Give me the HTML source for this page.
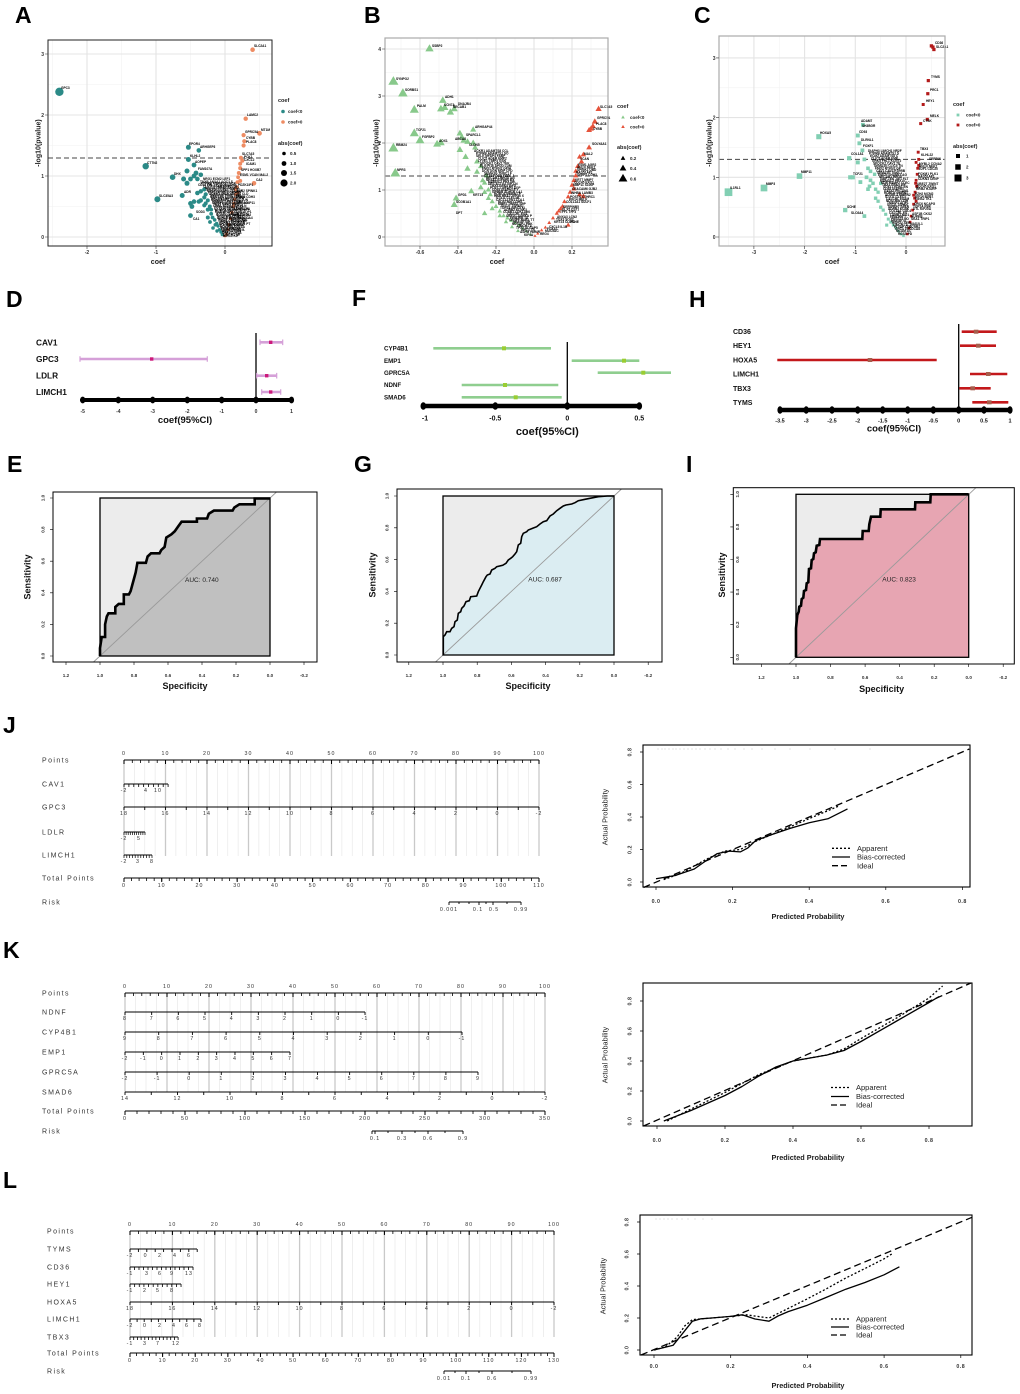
<!DOCTYPE html>
<html><head><meta charset="utf-8"><style>
html,body{margin:0;padding:0;background:#fff}
svg{display:block}
text{font-family:"Liberation Sans",Arial,sans-serif}
.b{font-weight:bold}
.pl{font-size:23px;font-weight:bold}
.tk{font-size:5px;font-weight:bold;fill:#333}
.gn{font-size:3.2px;font-weight:bold;fill:#000}
.lg{font-size:4.5px;font-weight:bold;fill:#222}
.lt{font-size:5.5px;font-weight:bold;fill:#222}
.ax{font-size:7px;font-weight:bold;fill:#222}
.nl{font-size:7px;fill:#333;letter-spacing:1.4px}
.nt{font-size:5.3px;fill:#333;letter-spacing:1px;text-anchor:middle}
.rt{font-size:4.6px;font-weight:bold;fill:#333;text-anchor:middle}
.cal{font-size:5.3px;font-weight:bold;fill:#333;text-anchor:middle;letter-spacing:0.5px}
.leg{font-size:7.5px;fill:#222}
</style></head><body>
<svg width="1020" height="1394" viewBox="0 0 1020 1394" xmlns="http://www.w3.org/2000/svg">
<defs>
<path id="tri" d="M0,-0.6 L0.52,0.3 L-0.52,0.3Z"/>
<rect id="sq" x="-0.5" y="-0.5" width="1" height="1"/>
</defs>
<rect width="1020" height="1394" fill="#fff"/>

<!-- Panel letters -->
<text class="pl" x="15" y="23">A</text>
<text class="pl" x="364" y="23">B</text>
<text class="pl" x="694" y="23">C</text>
<text class="pl" x="6" y="307">D</text>
<text class="pl" x="352" y="306">F</text>
<text class="pl" x="689" y="307">H</text>
<text class="pl" x="7" y="472">E</text>
<text class="pl" x="354" y="472">G</text>
<text class="pl" x="686" y="472">I</text>
<text class="pl" x="3" y="733">J</text>
<text class="pl" x="3" y="958">K</text>
<text class="pl" x="3" y="1188">L</text>

<!-- ================= Panel A ================= -->
<rect x="48" y="40" width="224" height="206" fill="#fff"/>
<g stroke="#f2f2f2" stroke-width="0.6">
<path d="M52.5,40V246M121.5,40V246M190.5,40V246M259.5,40V246M48,206.5H272M48,145.5H272M48,84.5H272"/>
</g>
<g stroke="#e4e4e4" stroke-width="1.1">
<path d="M87,40V246M156,40V246M225,40V246M48,237H272M48,176H272M48,115H272M48,54H272"/>
</g>
<line x1="48" y1="158" x2="272" y2="158" stroke="#444" stroke-width="1" stroke-dasharray="5,3"/>
<g fill="#2b8a87">
<circle cx="59.4" cy="91.8" r="4.2"/><circle cx="145.7" cy="166.2" r="3.2"/><circle cx="157.4" cy="199.2" r="3"/><circle cx="172.6" cy="177.2" r="2.8"/>
<circle cx="188.4" cy="147.3" r="2.5"/><circle cx="198.8" cy="150.4" r="2.3"/><circle cx="188.4" cy="159.5" r="2.5"/><circle cx="194" cy="165" r="2.4"/>
<circle cx="187" cy="171" r="2.5"/><circle cx="196" cy="173" r="2.4"/><circle cx="194" cy="176" r="2.4"/><circle cx="183.6" cy="179" r="2.5"/>
<circle cx="187" cy="183.3" r="2.5"/><circle cx="190.5" cy="179" r="2.4"/><circle cx="197.4" cy="179" r="2.3"/><circle cx="200.8" cy="174.8" r="2.3"/>
<circle cx="182.2" cy="195.5" r="2.5"/><circle cx="191.9" cy="206.5" r="2.4"/><circle cx="190.5" cy="215.6" r="2.4"/><circle cx="190.5" cy="203.4" r="2.4"/>
<circle cx="197.4" cy="193" r="2.3"/><circle cx="200.8" cy="191.3" r="2.2"/><circle cx="204.3" cy="189.4" r="2.1"/><circle cx="205.7" cy="194.3" r="2.1"/>
<circle cx="204.3" cy="197.4" r="2.1"/><circle cx="200.8" cy="200.4" r="2.2"/><circle cx="207.8" cy="200.4" r="2"/><circle cx="205.7" cy="203.4" r="2"/>
<circle cx="209.8" cy="206.5" r="2"/><circle cx="207.8" cy="209.6" r="2"/><circle cx="211.2" cy="209.6" r="1.9"/><circle cx="211.2" cy="213.8" r="1.9"/>
<circle cx="212.6" cy="217.5" r="1.9"/><circle cx="207.8" cy="217.5" r="2"/><circle cx="214.7" cy="219.9" r="1.8"/><circle cx="216.7" cy="223.6" r="1.8"/>
<circle cx="218.1" cy="226" r="1.7"/><circle cx="219.5" cy="229.7" r="1.7"/><circle cx="220.9" cy="232.1" r="1.6"/><circle cx="222.2" cy="234.6" r="1.6"/>
<circle cx="215.3" cy="224.8" r="1.8"/><circle cx="204.3" cy="205.3" r="2.1"/><circle cx="198.8" cy="201.6" r="2.2"/><circle cx="194" cy="201.6" r="2.3"/>
<circle cx="213" cy="228" r="1.8"/><circle cx="210" cy="222" r="1.9"/><circle cx="217" cy="231" r="1.7"/>
</g>
<g fill="#ee8c63">
<circle cx="252.6" cy="49.7" r="2.3"/><circle cx="245.7" cy="118.7" r="2.2"/><circle cx="259.5" cy="133.3" r="2.4"/><circle cx="243.6" cy="135.1" r="2.1"/>
<circle cx="244.3" cy="141.2" r="2.1"/><circle cx="243.6" cy="145.5" r="2.1"/><circle cx="254" cy="183.3" r="2.3"/><circle cx="240.9" cy="157.7" r="2"/>
<circle cx="242.3" cy="160.8" r="2"/><circle cx="240.2" cy="163.8" r="2"/><circle cx="240.2" cy="168.1" r="2"/><circle cx="238.8" cy="173" r="2"/>
<circle cx="238.1" cy="177.2" r="1.9"/><circle cx="237.4" cy="182.1" r="1.9"/><circle cx="236.7" cy="187" r="1.9"/><circle cx="235.4" cy="189.4" r="1.9"/>
<circle cx="236" cy="194.3" r="1.9"/><circle cx="234.7" cy="199.2" r="1.8"/><circle cx="233.3" cy="206.5" r="1.8"/><circle cx="231.9" cy="212.6" r="1.7"/>
<circle cx="230.5" cy="218.7" r="1.7"/><circle cx="229.1" cy="224.8" r="1.7"/><circle cx="227.8" cy="229.7" r="1.6"/><circle cx="226.4" cy="234" r="1.6"/>
<circle cx="225" cy="235.8" r="1.6"/><circle cx="240.2" cy="180.9" r="2"/><circle cx="234" cy="203.4" r="1.8"/><circle cx="237.4" cy="193" r="1.9"/>
</g>
<g class="gn">
<text x="61" y="89">GPC3</text><text x="254" y="47">SLC2A1</text><text x="247" y="116">LAMC2</text><text x="261" y="131">MT1M</text>
<text x="245" y="133">GPRC5A</text><text x="246" y="139">CYBB</text><text x="246" y="143">PLAC8</text><text x="189" y="145">EPOR4</text>
<text x="200" y="148">ARHGEF6</text><text x="190" y="157">KLHL2</text><text x="195" y="163">AOPEP</text><text x="147" y="164">CTTN2</text>
<text x="174" y="175">DHX</text><text x="198" y="170">FAM107A</text><text x="159" y="197">SLC35A3</text><text x="184" y="193">ADR</text>
<text x="242" y="155">SLC7A5</text><text x="244" y="158">PCK1</text><text x="244" y="161">CXCL2</text><text x="246" y="165">ICAM1</text>
<text x="256" y="181">CA2</text><text x="241" y="171">SPP1 HOXB7</text><text x="240" y="176">ESM1 VCAN MAL2</text>
<text x="203" y="180">NRG1 ECM2 LEF1</text><text x="200" y="183">TNXB ANXA1 AOC3 S</text><text x="198" y="186">CD34 FHL1 PTGDS CDH5</text>
<text x="205" y="189">KRT19 TGFB3 SPARCL</text><text x="207" y="192">MFAP4 FABP4 CCL14 K</text><text x="209" y="195">ACKR1 SELE ABCA8 CLD</text>
<text x="210" y="198">GSN CFD LYVE1 EMCN</text><text x="211" y="201">FOSB EGR1 NR4A1 JUN</text><text x="212" y="204">IGFBP6 MYH11 DES AC</text>
<text x="213" y="207">CNN1 ACTG2 VIP PLN</text><text x="214" y="210">C7 OGN DPT LUM DCN</text><text x="215" y="213">PI16 MFAP5 CD36 AQP1</text>
<text x="216" y="216">SCN7A GPM6B TCF21</text><text x="217" y="219">ADH1B HBB HBA2 CA4</text><text x="218" y="222">TIMP3 CXCL12 ZFP</text>
<text x="219" y="225">APOD MGP CST3 PT</text><text x="220" y="228">ELN FN1 COL1A</text><text x="221" y="231">MMP2 THBS1 A</text>
<text x="222" y="234">SPP1 TOP2A</text><text x="223" y="237">BIRC5 KIF</text>
<text x="201" y="184.5">PTPRB ADAMTS1 SOX</text><text x="203" y="187.5">CLIC5 AGER EMP2 CA</text><text x="206" y="190.5">SPOCK2 CAV2 TEK S</text>
<text x="208" y="193.5">FMO2 RTKN2 GPIHBP</text><text x="210" y="196.5">SEMA3G TNNC1 FHL</text><text x="211" y="199.5">NECAB1 HPGD ANKR</text>
<text x="212" y="202.5">MAMDC2 PRX NPR3</text><text x="213" y="205.5">TBX3 GRK5 WFDC1</text><text x="214" y="208.5">CD93 DIAPH3 ECM</text>
<text x="215" y="211.5">ROBO4 MMRN1 PTP</text><text x="216" y="214.5">STX11 CLEC3B FC</text><text x="217" y="217.5">NOSTRIN CDH5 T</text>
<text x="218" y="220.5">SGCG TSPAN7 ED</text><text x="219" y="223.5">ADRB2 KCNK3 E</text><text x="220" y="226.5">CALCRL ESAM</text>
<text x="221" y="229.5">FENDRR TAL1</text><text x="222" y="232.5">HBEGF VIPR</text><text x="223" y="235.5">LIMCH1 AR</text>
<text x="238" y="186">PDZK1IP1</text><text x="236" y="192">AGR2 SPINK1</text><text x="235" y="198">SFRP2 CDH3</text>
<text x="234" y="204">MMP7 MMP11</text><text x="233" y="210">S100P CEA</text><text x="232" y="216">INHBA GJB2</text><text x="231" y="222">POSTN CT</text>
<text x="229" y="219">CDC45 EXO1</text><text x="226" y="226">ANLN NEK2</text><text x="226" y="230">RAD51AP</text>
<text x="196" y="213">SOD3</text><text x="193" y="220">CA1</text>
</g>
<rect x="48" y="40" width="224" height="206" fill="none" stroke="#222" stroke-width="1"/>
<path d="M87,246v3M156,246v3M225,246v3M48,237h-3M48,176h-3M48,115h-3M48,54h-3" stroke="#333" stroke-width="0.6"/>
<g class="tk" text-anchor="end"><text x="44" y="239">0</text><text x="44" y="178">1</text><text x="44" y="117">2</text><text x="44" y="56">3</text></g>
<g class="tk" text-anchor="middle"><text x="87" y="254">-2</text><text x="156" y="254">-1</text><text x="225" y="254">0</text></g>
<text class="ax" x="158" y="264" text-anchor="middle">coef</text>
<text class="ax" transform="translate(40.5,143) rotate(-90)" text-anchor="middle">-log10(pvalue)</text>
<text class="lt" x="278" y="102">coef</text>
<circle cx="283" cy="111.5" r="1.8" fill="#2b8a87"/><text class="lg" x="288" y="113">coef&lt;0</text>
<circle cx="283" cy="122" r="1.8" fill="#ee8c63"/><text class="lg" x="288" y="123.5">coef&gt;0</text>
<text class="lt" x="278" y="145">abs(coef)</text>
<circle cx="284" cy="153.5" r="1.8"/><circle cx="284" cy="163.5" r="2.4"/><circle cx="284" cy="173" r="3"/><circle cx="284" cy="183" r="3.6"/>
<text class="lg" x="290" y="155">0.5</text><text class="lg" x="290" y="165">1.0</text><text class="lg" x="290" y="174.5">1.5</text><text class="lg" x="290" y="184.5">2.0</text>

<!-- ================= Panel B ================= -->
<rect x="385" y="38" width="223" height="208" fill="#fff"/>
<g stroke="#f2f2f2" stroke-width="0.6">
<path d="M401,38V246M439,38V246M477,38V246M515,38V246M553,38V246M591,38V246M385,213.5H608M385,166.5H608M385,119.5H608M385,72.5H608"/>
</g>
<g stroke="#e4e4e4" stroke-width="1.1">
<path d="M420,38V246M458,38V246M496,38V246M534,38V246M572,38V246M385,237H608M385,190H608M385,143H608M385,96H608M385,49H608"/>
</g>
<line x1="385" y1="176" x2="608" y2="176" stroke="#444" stroke-width="1" stroke-dasharray="5,3"/>
<g fill="#88c98b">
<use href="#tri" transform="translate(429.5,49) scale(8)"/><use href="#tri" transform="translate(393.4,81.9) scale(9.7)"/>
<use href="#tri" transform="translate(402.9,93.7) scale(9.2)"/><use href="#tri" transform="translate(414.3,110.1) scale(8.7)"/>
<use href="#tri" transform="translate(442.8,100.7) scale(7.3)"/><use href="#tri" transform="translate(440.9,109.2) scale(7.4)"/>
<use href="#tri" transform="translate(444.7,107.8) scale(7.2)"/><use href="#tri" transform="translate(450.4,112.5) scale(7)"/>
<use href="#tri" transform="translate(454.2,109.2) scale(6.8)"/><use href="#tri" transform="translate(414.3,133.6) scale(8.7)"/>
<use href="#tri" transform="translate(420,140.7) scale(8.4)"/><use href="#tri" transform="translate(437.1,144.4) scale(7.6)"/>
<use href="#tri" transform="translate(440.9,143) scale(7.4)"/><use href="#tri" transform="translate(393.4,148.6) scale(9.7)"/>
<use href="#tri" transform="translate(395.3,173.6) scale(9.6)"/><use href="#tri" transform="translate(459.9,133.6) scale(6.5)"/>
<use href="#tri" transform="translate(461.8,137.4) scale(6.4)"/><use href="#tri" transform="translate(463.7,140.7) scale(6.3)"/>
<use href="#tri" transform="translate(467.5,142) scale(6.2)"/><use href="#tri" transform="translate(473.2,129.8) scale(5.9)"/>
<use href="#tri" transform="translate(473.2,143) scale(5.9)"/><use href="#tri" transform="translate(475.1,147.7) scale(5.8)"/>
<use href="#tri" transform="translate(459.9,150) scale(6.5)"/><use href="#tri" transform="translate(465.6,157.1) scale(6.2)"/>
<use href="#tri" transform="translate(467.5,168.9) scale(6.2)"/><use href="#tri" transform="translate(477,161.8) scale(5.7)"/>
<use href="#tri" transform="translate(480.8,166.5) scale(5.5)"/><use href="#tri" transform="translate(477,172.1) scale(5.7)"/>
<use href="#tri" transform="translate(482.7,180.6) scale(5.4)"/><use href="#tri" transform="translate(484.6,183) scale(5.3)"/>
<use href="#tri" transform="translate(486.5,175.9) scale(5.3)"/><use href="#tri" transform="translate(488.4,190) scale(5.2)"/>
<use href="#tri" transform="translate(484.6,192.4) scale(5.3)"/><use href="#tri" transform="translate(471.3,191.4) scale(6)"/>
<use href="#tri" transform="translate(456.1,198.5) scale(6.7)"/><use href="#tri" transform="translate(454.2,205) scale(6.8)"/>
<use href="#tri" transform="translate(484.6,213.5) scale(5.3)"/><use href="#tri" transform="translate(488.4,198.5) scale(5.2)"/>
<use href="#tri" transform="translate(492.2,201.8) scale(5)"/><use href="#tri" transform="translate(496,206.5) scale(4.8)"/>
<use href="#tri" transform="translate(499.8,211.2) scale(4.6)"/><use href="#tri" transform="translate(503.6,215.9) scale(4.4)"/>
<use href="#tri" transform="translate(507.4,218.2) scale(4.3)"/><use href="#tri" transform="translate(511.2,220.6) scale(4.1)"/>
<use href="#tri" transform="translate(515,222.9) scale(3.9)"/><use href="#tri" transform="translate(518.8,225.3) scale(3.7)"/>
<use href="#tri" transform="translate(522.6,228.5) scale(3.5)"/><use href="#tri" transform="translate(526.4,231.4) scale(3.4)"/>
<use href="#tri" transform="translate(530.2,234.6) scale(3.2)"/><use href="#tri" transform="translate(499.8,215.9) scale(4.6)"/>
<use href="#tri" transform="translate(492.2,208.8) scale(5)"/><use href="#tri" transform="translate(490.3,194.7) scale(5.1)"/>
<use href="#tri" transform="translate(480.8,187.6) scale(5.5)"/><use href="#tri" transform="translate(506,222) scale(4.2)"/>
<use href="#tri" transform="translate(512,227) scale(4)"/><use href="#tri" transform="translate(518,231) scale(3.8)"/>
</g>
<g fill="#e5533b">
<use href="#tri" transform="translate(598.6,109.2) scale(6)"/><use href="#tri" transform="translate(594.8,121.8) scale(5.9)"/>
<use href="#tri" transform="translate(592.9,126.5) scale(5.8)"/><use href="#tri" transform="translate(591,128.9) scale(5.7)"/>
<use href="#tri" transform="translate(589.1,130.3) scale(5.6)"/><use href="#tri" transform="translate(589.1,147.7) scale(5.6)"/>
<use href="#tri" transform="translate(583.4,154.8) scale(5.3)"/><use href="#tri" transform="translate(579.6,157.1) scale(5.2)"/>
<use href="#tri" transform="translate(581.5,161.8) scale(5.2)"/><use href="#tri" transform="translate(577.7,166.5) scale(5.1)"/>
<use href="#tri" transform="translate(575.8,171.2) scale(5)"/><use href="#tri" transform="translate(575.8,175.9) scale(5)"/>
<use href="#tri" transform="translate(573.9,180.6) scale(4.9)"/><use href="#tri" transform="translate(572,185.3) scale(4.8)"/>
<use href="#tri" transform="translate(573.9,189) scale(4.9)"/><use href="#tri" transform="translate(570.1,192.4) scale(4.7)"/>
<use href="#tri" transform="translate(579.6,194.7) scale(5.2)"/><use href="#tri" transform="translate(583.4,196.6) scale(5.3)"/>
<use href="#tri" transform="translate(564.4,201.8) scale(4.4)"/><use href="#tri" transform="translate(562.5,206.5) scale(4.4)"/>
<use href="#tri" transform="translate(558.7,211.2) scale(4.2)"/><use href="#tri" transform="translate(556.8,213.5) scale(4.1)"/>
<use href="#tri" transform="translate(553,218.2) scale(3.9)"/><use href="#tri" transform="translate(549.2,222.9) scale(3.7)"/>
<use href="#tri" transform="translate(545.4,227.6) scale(3.5)"/><use href="#tri" transform="translate(541.6,230.4) scale(3.4)"/>
<use href="#tri" transform="translate(537.8,233.7) scale(3.2)"/><use href="#tri" transform="translate(535,236) scale(3)"/>
<use href="#tri" transform="translate(568.2,225.3) scale(4.6)"/><use href="#tri" transform="translate(560.6,208.8) scale(4.3)"/>
<use href="#tri" transform="translate(568.2,197) scale(4.6)"/>
</g>
<g class="gn">
<text x="432" y="47">SSBP2</text><text x="396" y="80">SYNPO2</text><text x="405" y="91">SORBS1</text><text x="417" y="107">PALM</text>
<text x="445" y="98">ADH1</text><text x="444" y="106">SCN7A</text><text x="453" y="108">NECAB1</text><text x="458" y="105">DNAJB4</text>
<text x="416" y="131">TCF21</text><text x="422" y="138">FGFBP2</text><text x="396" y="146">RBM24</text><text x="397" y="171">NPR3</text>
<text x="439" y="142">AOX1</text><text x="455" y="140">ABCA8</text><text x="475" y="128">ARHGAP44</text><text x="466" y="136">SPARCL1</text>
<text x="469" y="146">CLDN5</text><text x="473" y="196">KRT15</text><text x="458" y="196">GPD1</text><text x="456" y="203">SCGB1A1</text>
<text x="456" y="214">DPT</text>
<text x="474" y="152">ACKR1 ADAMTS8 CCL</text><text x="476" y="157">SELE MFAP4 FABP</text><text x="478" y="162">LYVE1 TIMP3 GSN</text>
<text x="480" y="167">ELN PI16 APOD LUM</text><text x="482" y="172">DCN OGN MGP CFD</text><text x="484" y="177">CST3 FOSB EGR1 J</text>
<text x="486" y="181">NR4A1 IGFBP6 MY</text><text x="488" y="185">DES ACTG2 VIP CN</text><text x="490" y="189">PLN C7 MFAP5 AQP</text>
<text x="492" y="193">GPM6B ADH1B CA1</text><text x="494" y="197">HBB HBA2 ZFP36 X</text><text x="496" y="201">CXCL12 FN1 COL1</text>
<text x="498" y="205">MMP2 THBS1 SPP</text><text x="500" y="209">TOP2A BIRC5 KI</text><text x="503" y="213">CCNB1 CDK1 MKI</text>
<text x="506" y="217">UBE2C AURKA P</text><text x="509" y="221">CENPF BUB1 TT</text><text x="512" y="225">NUSAP1 PBK</text>
<text x="516" y="229">TPX2 DLGAP5</text><text x="520" y="233">ASPM HMMR</text><text x="524" y="236">KIF4A</text>
<text x="476" y="154.5">PTPRB ADAMTS1 SO</text><text x="478" y="159.5">CLIC5 AGER EMP2</text><text x="480" y="164.5">SPOCK2 CAV2 TEK</text>
<text x="482" y="169.5">FMO2 RTKN2 GPIH</text><text x="484" y="174.5">SEMA3G TNNC1 F</text><text x="486" y="179">NECAB1 HPGD AN</text>
<text x="488" y="183">MAMDC2 PRX NP</text><text x="490" y="187">TBX3 GRK5 WFD</text><text x="492" y="191">CD93 DIAPH3 E</text>
<text x="494" y="195">ROBO4 MMRN1 P</text><text x="496" y="199">STX11 CLEC3B</text><text x="498" y="203">NOSTRIN CDH5</text>
<text x="501" y="207">SGCG TSPAN7</text><text x="504" y="211">ADRB2 KCNK3</text><text x="507" y="215">CALCRL ESA</text>
<text x="510" y="219">FENDRR TA</text><text x="513" y="223">HBEGF VIP</text><text x="517" y="227">LIMCH1 A</text><text x="521" y="231">GPC3 TN</text>
<text x="600" y="108">SLC7A5</text><text x="597" y="119">GPRC5A</text><text x="596" y="125">PLAC8</text><text x="593" y="130">CYBB</text>
<text x="592" y="145">SOLYAA1</text><text x="584" y="155">MAL2</text><text x="580" y="160">VCAN</text><text x="578" y="166">ESM1 AGR2</text>
<text x="577" y="171">SPINK1 UBD</text><text x="577" y="176">SFRP2 CDH3</text><text x="575" y="181">KRT7 MMP7</text><text x="573" y="186">MMP11 S100P</text>
<text x="572" y="190">CEACAM6 GJB2</text><text x="571" y="194">INHBA LAMB3</text><text x="570" y="198">POSTN CTHRC1</text><text x="566" y="203">COL11A1 SULF1</text>
<text x="563" y="208">SERPINB5</text><text x="560" y="213">TFF1 TFF3</text><text x="557" y="218">ANXA3 LCN2</text><text x="554" y="223">KRT23 CLDN1</text>
<text x="549" y="228">CXCL5 IL1B</text><text x="545" y="232">MUC5AC</text><text x="540" y="235">REG4</text><text x="570" y="223">PCHE</text>
<text x="577" y="168.5">ANLN NEK2</text><text x="576" y="173.5">RAD51AP1</text><text x="574" y="183.5">CDC45 EXO1</text><text x="569" y="200.5">KIF14 MELK</text>
<text x="562" y="210.5">DLX5 CST1</text><text x="556" y="220.5">TOX3 SOX2</text><text x="547" y="230">FOXA1</text>
</g>
<rect x="385" y="38" width="223" height="208" fill="none" stroke="#aaa" stroke-width="1.2"/>
<path d="M420,246v3M458,246v3M496,246v3M534,246v3M572,246v3M385,237h-3M385,190h-3M385,143h-3M385,96h-3M385,49h-3" stroke="#333" stroke-width="0.6"/>
<g class="tk" text-anchor="end"><text x="381" y="239">0</text><text x="381" y="192">1</text><text x="381" y="145">2</text><text x="381" y="98">3</text><text x="381" y="51">4</text></g>
<g class="tk" text-anchor="middle"><text x="420" y="254">-0.6</text><text x="458" y="254">-0.4</text><text x="496" y="254">-0.2</text><text x="534" y="254">0.0</text><text x="572" y="254">0.2</text></g>
<text class="ax" x="497" y="264" text-anchor="middle">coef</text>
<text class="ax" transform="translate(378.5,143) rotate(-90)" text-anchor="middle">-log10(pvalue)</text>
<text class="lt" x="617" y="108">coef</text>
<use href="#tri" transform="translate(623,117.5) scale(3.5)" fill="#88c98b"/><text class="lg" x="630" y="119">coef&lt;0</text>
<use href="#tri" transform="translate(623,127) scale(3.5)" fill="#e5533b"/><text class="lg" x="630" y="128.5">coef&gt;0</text>
<text class="lt" x="617" y="149">abs(coef)</text>
<use href="#tri" transform="translate(623,158.5) scale(4.5)"/><use href="#tri" transform="translate(623,168.5) scale(6.5)"/><use href="#tri" transform="translate(623,179) scale(8.5)"/>
<text class="lg" x="630" y="160">0.2</text><text class="lg" x="630" y="170">0.4</text><text class="lg" x="630" y="180.5">0.6</text>

<!-- ================= Panel C ================= -->
<rect x="719" y="36" width="226" height="210" fill="#fff"/>
<g stroke="#f2f2f2" stroke-width="0.6">
<path d="M728.6,36V246M779.3,36V246M830,36V246M880.7,36V246M931.4,36V246M719,207.2H945M719,147.5H945M719,87.8H945"/>
</g>
<g stroke="#e4e4e4" stroke-width="1.1">
<path d="M753.9,36V246M804.6,36V246M855.3,36V246M906,36V246M719,237H945M719,177.3H945M719,117.6H945M719,57.9H945"/>
</g>
<line x1="719" y1="159.4" x2="945" y2="159.4" stroke="#444" stroke-width="1" stroke-dasharray="5,3"/>
<g fill="#82cfb3">
<use href="#sq" transform="translate(728.5,192.2) scale(7.7)"/><use href="#sq" transform="translate(764,188) scale(6.7)"/>
<use href="#sq" transform="translate(799.5,176.1) scale(5.6)"/><use href="#sq" transform="translate(818.8,136.7) scale(5.1)"/>
<use href="#sq" transform="translate(845.2,210.1) scale(4.3)"/><use href="#sq" transform="translate(850.2,177.3) scale(4.1)"/>
<use href="#sq" transform="translate(852.8,177.3) scale(4.1)"/><use href="#sq" transform="translate(849.2,158.2) scale(4.2)"/>
<use href="#sq" transform="translate(857.8,162.4) scale(3.9)"/><use href="#sq" transform="translate(857.8,135.5) scale(3.9)"/>
<use href="#sq" transform="translate(859.4,143.3) scale(3.9)"/><use href="#sq" transform="translate(862.9,124.8) scale(3.8)"/>
<use href="#sq" transform="translate(862.4,150.4) scale(3.8)"/><use href="#sq" transform="translate(864.4,159.4) scale(3.7)"/>
<use href="#sq" transform="translate(868,168.3) scale(3.6)"/><use href="#sq" transform="translate(870.5,171.3) scale(3.6)"/>
<use href="#sq" transform="translate(870.5,180.3) scale(3.6)"/><use href="#sq" transform="translate(873,183.3) scale(3.5)"/>
<use href="#sq" transform="translate(875.6,189.2) scale(3.4)"/><use href="#sq" transform="translate(878.1,192.2) scale(3.3)"/>
<use href="#sq" transform="translate(878.1,201.2) scale(3.3)"/><use href="#sq" transform="translate(880.7,207.2) scale(3.3)"/>
<use href="#sq" transform="translate(883.2,210.1) scale(3.2)"/><use href="#sq" transform="translate(885.7,214.3) scale(3.1)"/>
<use href="#sq" transform="translate(888.3,219.1) scale(3)"/><use href="#sq" transform="translate(890.8,222.1) scale(3)"/>
<use href="#sq" transform="translate(893.3,225.1) scale(2.9)"/><use href="#sq" transform="translate(895.9,228) scale(2.8)"/>
<use href="#sq" transform="translate(898.4,231) scale(2.7)"/><use href="#sq" transform="translate(900.9,234) scale(2.7)"/>
<use href="#sq" transform="translate(903.5,235.8) scale(2.6)"/><use href="#sq" transform="translate(864.4,216.1) scale(3.7)"/>
<use href="#sq" transform="translate(886.7,225.1) scale(3.1)"/><use href="#sq" transform="translate(875.6,198.2) scale(3.4)"/>
<use href="#sq" transform="translate(869.5,186.3) scale(3.6)"/><use href="#sq" transform="translate(866.5,177.3) scale(3.7)"/>
<use href="#sq" transform="translate(860.4,182.1) scale(3.8)"/><use href="#sq" transform="translate(874.6,174.3) scale(3.4)"/>
<use href="#sq" transform="translate(880.7,183.3) scale(3.3)"/><use href="#sq" transform="translate(868,189.2) scale(3.6)"/>
</g>
<g fill="#b31a1a">
<use href="#sq" transform="translate(931.4,45.9) scale(3.3)"/><use href="#sq" transform="translate(932.9,47.1) scale(3.3)"/>
<use href="#sq" transform="translate(933.9,49.5) scale(3.3)"/><use href="#sq" transform="translate(928.3,80.6) scale(3.2)"/>
<use href="#sq" transform="translate(927.8,93.7) scale(3.2)"/><use href="#sq" transform="translate(923.2,104.5) scale(3)"/>
<use href="#sq" transform="translate(927.3,119.4) scale(3.1)"/><use href="#sq" transform="translate(920.7,123.6) scale(3)"/>
<use href="#sq" transform="translate(918.2,152.2) scale(2.9)"/><use href="#sq" transform="translate(918.7,159.4) scale(2.9)"/>
<use href="#sq" transform="translate(916.1,162.4) scale(2.8)"/><use href="#sq" transform="translate(917.7,168.3) scale(2.8)"/>
<use href="#sq" transform="translate(917.2,174.3) scale(2.8)"/><use href="#sq" transform="translate(916.1,180.3) scale(2.8)"/>
<use href="#sq" transform="translate(916.6,186.3) scale(2.8)"/><use href="#sq" transform="translate(915.1,192.2) scale(2.8)"/>
<use href="#sq" transform="translate(914.6,198.2) scale(2.7)"/><use href="#sq" transform="translate(913.6,204.2) scale(2.7)"/>
<use href="#sq" transform="translate(912.6,210.1) scale(2.7)"/><use href="#sq" transform="translate(911.1,216.1) scale(2.6)"/>
<use href="#sq" transform="translate(910.1,222.1) scale(2.6)"/><use href="#sq" transform="translate(909,228) scale(2.6)"/>
<use href="#sq" transform="translate(907.5,234) scale(2.5)"/><use href="#sq" transform="translate(916.1,201.2) scale(2.8)"/>
<use href="#sq" transform="translate(913.6,195.2) scale(2.7)"/><use href="#sq" transform="translate(918.7,165.4) scale(2.9)"/>
<use href="#sq" transform="translate(915.6,183.3) scale(2.8)"/>
</g>
<g class="gn">
<text x="730" y="189">IL1RL1</text><text x="766" y="185">MMP3</text><text x="801" y="173">MMP11</text><text x="820" y="134">HOXA5</text>
<text x="847" y="208">SCHE</text><text x="853" y="175">TCF21</text><text x="861" y="122">ADAM7</text><text x="862" y="127">SH3BGR</text>
<text x="859" y="133">CD93</text><text x="861" y="141">DLRNL1</text><text x="863" y="147">FOXF1</text><text x="851" y="155">COL1A1</text>
<text x="851" y="214">SLC6A4</text>
<text x="935" y="44">CD36</text><text x="936" y="48">SLC2A1</text><text x="931" y="78">TYMS</text><text x="930" y="91">PRC1</text>
<text x="926" y="102">HEY1</text><text x="930" y="117">MELK</text><text x="923" y="122">CTSK</text><text x="920" y="150">TBX3</text>
<text x="921" y="156">KLHL22</text><text x="929" y="160">SERPIN</text>
<text x="868" y="152">DIAPH3 LIMCH1 NR2F</text><text x="870" y="157">ECM2 ADAMTS8 C</text><text x="872" y="162">GRK5 FHL1 KCNT2</text>
<text x="874" y="167">SEMA3G CLIC5 TN</text><text x="876" y="172">CAV1 CAV2 PTPRB</text><text x="878" y="176">EMCN SHANK3 AG</text>
<text x="880" y="180">VWF TEK TIE1 FLT</text><text x="881" y="184">KDR RAMP2 CLEC</text><text x="883" y="188">SOX17 EDN1 EN</text>
<text x="884" y="192">GATA2 PECAM1</text><text x="885" y="196">ADGRL4 MMRN2</text><text x="886" y="200">CALCRL ESAM</text>
<text x="887" y="204">TM4SF1 AQP1</text><text x="888" y="208">IGFBP7 SPAR</text><text x="889" y="212">COL4A1 COL4</text>
<text x="890" y="216">LAMB1 NID1</text><text x="891" y="220">PRSS23 NO</text><text x="892" y="224">HSPG2 SER</text>
<text x="894" y="228">PLVAP CD3</text><text x="896" y="232">MCAM AC</text><text x="898" y="235">RGS5 PD</text>
<text x="869" y="154.5">PTPRB ADAMTS1 S</text><text x="871" y="159.5">CLIC5 AGER EMP</text><text x="873" y="164.5">SPOCK2 CAV2 TE</text>
<text x="875" y="169.5">FMO2 RTKN2 GP</text><text x="877" y="174">SEMA3G TNNC1</text><text x="879" y="178">NECAB1 HPGD</text>
<text x="880" y="182">MAMDC2 PRX N</text><text x="882" y="186">TBX3 GRK5 WF</text><text x="883" y="190">CD93 DIAPH3</text>
<text x="884" y="194">ROBO4 MMRN1</text><text x="885" y="198">STX11 CLEC3</text><text x="886" y="202">NOSTRIN CDH</text>
<text x="887" y="206">SGCG TSPAN</text><text x="888" y="210">ADRB2 KCNK</text><text x="889" y="214">CALCRL ES</text>
<text x="890" y="218">FENDRR T</text><text x="891" y="222">HBEGF VI</text><text x="893" y="226">LIMCH1 A</text><text x="895" y="230">GPC3 TN</text>
<text x="919" y="165">MYBL2 CCNA2</text><text x="919" y="170">E2F1 CDC20</text><text x="918" y="175">FOXM1 PLK1</text>
<text x="918" y="180">CDKN3 CENP</text><text x="917" y="185">UBE2T ZWINT</text><text x="916" y="190">RRM2 HJURP</text>
<text x="915" y="195">EZH2 MCM2</text><text x="915" y="200">GINS2 TK1</text><text x="914" y="205">ORC6 NCAPG</text>
<text x="913" y="210">DTL KIF20A</text><text x="912" y="215">ASF1B CKS2</text><text x="911" y="220">SKA1 TRIP1</text>
<text x="910" y="225">MAD2L1</text><text x="909" y="230">CDCA8</text>
<text x="919" y="167.5">ANLN NEK2</text><text x="918" y="177.5">RAD51AP1</text><text x="916" y="187.5">CDC45 EXO1</text>
<text x="915" y="197.5">KIF14 BUB1</text><text x="913" y="207.5">TOP2A PBK</text><text x="911" y="217.5">AURKB</text><text x="909" y="227.5">CCNB2</text>
</g>
<rect x="719" y="36" width="226" height="210" fill="none" stroke="#aaa" stroke-width="1.2"/>
<path d="M753.9,246v3M804.6,246v3M855.3,246v3M906,246v3M719,237h-3M719,177.3h-3M719,117.6h-3M719,57.9h-3" stroke="#333" stroke-width="0.6"/>
<g class="tk" text-anchor="end"><text x="715.5" y="239">0</text><text x="715.5" y="179.3">1</text><text x="715.5" y="119.6">2</text><text x="715.5" y="59.9">3</text></g>
<g class="tk" text-anchor="middle"><text x="754" y="254">-3</text><text x="805" y="254">-2</text><text x="855" y="254">-1</text><text x="906" y="254">0</text></g>
<text class="ax" x="832" y="264" text-anchor="middle">coef</text>
<text class="ax" transform="translate(711.5,143) rotate(-90)" text-anchor="middle">-log10(pvalue)</text>
<text class="lt" x="953" y="106">coef</text>
<use href="#sq" transform="translate(958,115) scale(2.8)" fill="#82cfb3"/><text class="lg" x="966" y="116.5">coef&lt;0</text>
<use href="#sq" transform="translate(958,125) scale(2.8)" fill="#b31a1a"/><text class="lg" x="966" y="126.5">coef&gt;0</text>
<text class="lt" x="953" y="148">abs(coef)</text>
<use href="#sq" transform="translate(958,156) scale(4)"/><use href="#sq" transform="translate(958,167) scale(5.5)"/><use href="#sq" transform="translate(958,178) scale(7)"/>
<text class="lg" x="966" y="157.5">1</text><text class="lg" x="966" y="168.5">2</text><text class="lg" x="966" y="179.5">3</text>

<!-- ================= Panel D ================= -->
<line x1="256" y1="333" x2="256" y2="400" stroke="#000" stroke-width="1.3"/>
<g stroke="#d5a0d8" stroke-width="2.6">
<path d="M260,342.3H282.7M80,359H207.3M256.7,375.7H276.7M261.7,392H280.7"/>
</g>
<g stroke="#d5a0d8" stroke-width="1.2">
<path d="M260,339.5v5.6M282.7,339.5v5.6M80,356.2v5.6M207.3,356.2v5.6M256.7,372.9v5.6M276.7,372.9v5.6M261.7,389.2v5.6M280.7,389.2v5.6"/>
</g>
<g fill="#cc1a7a">
<rect x="269" y="340.6" width="3.4" height="3.4"/><rect x="150" y="357.3" width="3.4" height="3.4"/><rect x="265" y="374" width="3.4" height="3.4"/><rect x="269" y="390.3" width="3.4" height="3.4"/>
</g>
<line x1="82" y1="400" x2="291.5" y2="400" stroke="#000" stroke-width="4" stroke-linecap="round"/>
<g fill="#000"><ellipse cx="82.7" cy="400" rx="2.6" ry="3.4"/><ellipse cx="118.3" cy="400" rx="2.6" ry="3.4"/><ellipse cx="152.7" cy="400" rx="2.6" ry="3.4"/><ellipse cx="187.3" cy="400" rx="2.6" ry="3.4"/><ellipse cx="221.7" cy="400" rx="2.6" ry="3.4"/><ellipse cx="256" cy="400" rx="2.6" ry="3.4"/><ellipse cx="291.5" cy="400" rx="2.6" ry="3.4"/></g>
<g class="tk" text-anchor="middle" font-size="5.3"><text x="82.7" y="413">-5</text><text x="118.3" y="413">-4</text><text x="152.7" y="413">-3</text><text x="187.3" y="413">-2</text><text x="221.7" y="413">-1</text><text x="256" y="413">0</text><text x="291.5" y="413">1</text></g>
<g font-weight="bold" font-size="8.3" fill="#111"><text x="36" y="345.3">CAV1</text><text x="36" y="362">GPC3</text><text x="36" y="378.7">LDLR</text><text x="36" y="395">LIMCH1</text></g>
<text x="185" y="423" font-size="9.5" font-weight="bold" text-anchor="middle" fill="#111">coef(95%CI)</text>

<!-- ================= Panel F ================= -->
<line x1="567.3" y1="342" x2="567.3" y2="406" stroke="#000" stroke-width="1.3"/>
<g stroke="#8fce8f" stroke-width="2.6">
<path d="M433.3,348.3H551M571.7,360.7H639.3M597.7,372.7H671M461.7,385H558.3M461.7,397.3H561.7"/>
</g>
<g fill="#9acd32">
<rect x="502" y="346.3" width="4" height="4"/><rect x="622" y="358.7" width="4" height="4"/><rect x="641.3" y="370.7" width="4" height="4"/><rect x="503" y="383" width="4" height="4"/><rect x="513.7" y="395.3" width="4" height="4"/>
</g>
<line x1="423.3" y1="406" x2="639.3" y2="406" stroke="#000" stroke-width="4.5" stroke-linecap="round"/>
<g fill="#000"><ellipse cx="423.3" cy="406" rx="2.8" ry="3.8"/><ellipse cx="495.3" cy="406" rx="2.8" ry="3.8"/><ellipse cx="567.3" cy="406" rx="2.8" ry="3.8"/><ellipse cx="639.3" cy="406" rx="2.8" ry="3.8"/></g>
<g font-weight="bold" font-size="7" fill="#111" text-anchor="middle"><text x="425" y="420.5">-1</text><text x="495.3" y="420.5">-0.5</text><text x="567.3" y="420.5">0</text><text x="639.3" y="420.5">0.5</text></g>
<g font-weight="bold" font-size="6.2" fill="#111"><text x="384" y="350.5">CYP4B1</text><text x="384" y="362.9">EMP1</text><text x="384" y="374.9">GPRC5A</text><text x="384" y="387.2">NDNF</text><text x="384" y="399.5">SMAD6</text></g>
<text x="547.3" y="435" font-size="11" font-weight="bold" text-anchor="middle" fill="#111">coef(95%CI)</text>

<!-- ================= Panel H ================= -->
<line x1="958.7" y1="324" x2="958.7" y2="410" stroke="#000" stroke-width="1.3"/>
<g stroke="#c3181b" stroke-width="2.6">
<path d="M961.7,331.7H996.7M960,345.7H996M777.3,360H936.7M970,374H1007.3M959.3,388.3H990.7M972.3,402.3H1008.3"/>
</g>
<g fill="#a65e4c">
<rect x="973.8" y="329.7" width="4.6" height="4"/><rect x="976" y="343.7" width="4.6" height="4"/><rect x="867.7" y="358" width="4.6" height="4"/><rect x="986" y="372" width="4.6" height="4"/><rect x="970.4" y="386.3" width="4.6" height="4"/><rect x="987" y="400.3" width="4.6" height="4"/>
</g>
<line x1="780" y1="410" x2="1010" y2="410" stroke="#000" stroke-width="4.5" stroke-linecap="round"/>
<g fill="#000"><ellipse cx="780" cy="410" rx="2.6" ry="3.8"/><ellipse cx="806.2" cy="410" rx="2.6" ry="3.8"/><ellipse cx="832" cy="410" rx="2.6" ry="3.8"/><ellipse cx="857.7" cy="410" rx="2.6" ry="3.8"/><ellipse cx="882.7" cy="410" rx="2.6" ry="3.8"/><ellipse cx="907.7" cy="410" rx="2.6" ry="3.8"/><ellipse cx="933.3" cy="410" rx="2.6" ry="3.8"/><ellipse cx="958.7" cy="410" rx="2.6" ry="3.8"/><ellipse cx="984" cy="410" rx="2.6" ry="3.8"/><ellipse cx="1010" cy="410" rx="2.6" ry="3.8"/></g>
<g font-weight="bold" font-size="5.5" fill="#111" text-anchor="middle"><text x="780" y="422.5">-3.5</text><text x="806.2" y="422.5">-3</text><text x="832" y="422.5">-2.5</text><text x="857.7" y="422.5">-2</text><text x="882.7" y="422.5">-1.5</text><text x="907.7" y="422.5">-1</text><text x="933.3" y="422.5">-0.5</text><text x="958.7" y="422.5">0</text><text x="984" y="422.5">0.5</text><text x="1010" y="422.5">1</text></g>
<g font-weight="bold" font-size="7" fill="#111"><text x="733" y="334.2">CD36</text><text x="733" y="348.2">HEY1</text><text x="733" y="362.5">HOXA5</text><text x="733" y="376.5">LIMCH1</text><text x="733" y="390.8">TBX3</text><text x="733" y="404.8">TYMS</text></g>
<text x="894" y="431.5" font-size="9.5" font-weight="bold" text-anchor="middle" fill="#111">coef(95%CI)</text>

<!-- ================= ROC E ================= -->
<rect x="100" y="498" width="170" height="158" fill="#ececec"/>
<polygon fill="#c0c0c0" points="100,656 100,648.1 101.7,637 105.1,637 105.1,624.4 106.8,616.5 108.5,613.3 115.3,613.3 115.3,607 118.7,603.9 123.8,603.9 123.8,594.4 128.9,594.4 130.6,591.2 132.3,584.9 134,578.6 135.7,572.3 137.4,562.8 145.9,562.8 147.6,556.5 151,553.3 159.5,553.3 161.2,550.1 164.6,547 166.3,537.5 171.4,534.3 174.8,531.2 178.2,526.4 181.6,521.7 196.9,521.7 196.9,518.5 207.1,518.5 208.8,513.8 213.9,510.6 232.6,510.6 234.3,507.5 239.4,504.3 254.7,504.3 254.7,498.5 270,498.5 270,656"/>
<line x1="93.5" y1="662" x2="276.5" y2="492" stroke="#9a9a9a" stroke-width="0.9"/>
<rect x="100" y="498" width="170" height="158" fill="none" stroke="#000" stroke-width="1.3"/>
<polyline fill="none" stroke="#000" stroke-width="2.6" points="100,656 100,648.1 101.7,637 105.1,637 105.1,624.4 106.8,616.5 108.5,613.3 115.3,613.3 115.3,607 118.7,603.9 123.8,603.9 123.8,594.4 128.9,594.4 130.6,591.2 132.3,584.9 134,578.6 135.7,572.3 137.4,562.8 145.9,562.8 147.6,556.5 151,553.3 159.5,553.3 161.2,550.1 164.6,547 166.3,537.5 171.4,534.3 174.8,531.2 178.2,526.4 181.6,521.7 196.9,521.7 196.9,518.5 207.1,518.5 208.8,513.8 213.9,510.6 232.6,510.6 234.3,507.5 239.4,504.3 254.7,504.3 254.7,498.5 270,498.5"/>
<rect x="53" y="492" width="264" height="170" fill="none" stroke="#000" stroke-width="1"/>
<path d="M66,662v3M100,662v3M134,662v3M168,662v3M202,662v3M236,662v3M270,662v3M304,662v3M53,656h-3M53,624.4h-3M53,592.8h-3M53,561.2h-3M53,529.6h-3M53,498h-3" stroke="#000" stroke-width="0.6"/>
<g class="rt"><text x="66" y="677">1.2</text><text x="100" y="677">1.0</text><text x="134" y="677">0.8</text><text x="168" y="677">0.6</text><text x="202" y="677">0.4</text><text x="236" y="677">0.2</text><text x="270" y="677">0.0</text><text x="304" y="677">-0.2</text></g>
<g class="rt"><text transform="translate(44.5,656) rotate(-90)">0.0</text><text transform="translate(44.5,624.4) rotate(-90)">0.2</text><text transform="translate(44.5,592.8) rotate(-90)">0.4</text><text transform="translate(44.5,561.2) rotate(-90)">0.6</text><text transform="translate(44.5,529.6) rotate(-90)">0.8</text><text transform="translate(44.5,498) rotate(-90)">1.0</text></g>
<text font-size="9" font-weight="bold" fill="#111" text-anchor="middle" transform="translate(30.5,577) rotate(-90)">Sensitivity</text>
<text x="185" y="689" font-size="9" font-weight="bold" fill="#111" text-anchor="middle">Specificity</text>
<text x="185" y="582" font-size="6.5" fill="#222">AUC: 0.740</text>

<!-- ================= ROC G ================= -->
<rect x="443" y="496" width="171" height="159" fill="#ececec"/>
<polygon fill="#dbedf2" points="443.3,655 443.3,636.7 445,635 446.7,631.7 450,631.7 451.7,628.3 454,626.7 455,621.7 457.3,620 458.3,613.3 460.7,611.7 461.7,608.3 464,606 466,601.7 469.3,600.7 470.7,596.7 476.7,596 478.3,591.7 480,588.3 481.7,585 483.3,581.7 486,576.7 487.3,575 490,574 491.7,570 495,568.3 496.7,566.7 502.7,565.3 506,563.3 508.3,560 510.7,558.3 512.7,556.7 515,554 516.7,551.7 518.3,545 520.7,543.3 521.7,536.7 523.3,533.3 526.7,531.7 528.3,530 532.7,528.3 536.7,526.7 540,524 543.3,521.7 546.7,520.7 550,516 553.3,514 556.7,510.7 560,508.3 563.3,506 566,505 571.7,504 575,502.7 578.3,500.7 585,499.3 595,497.3 598.3,496.7 607.3,496 614,496 614,655"/>
<line x1="435.5" y1="662" x2="621.5" y2="489" stroke="#9a9a9a" stroke-width="0.9"/>
<rect x="443" y="496" width="171" height="159" fill="none" stroke="#000" stroke-width="1.3"/>
<polyline fill="none" stroke="#000" stroke-width="1.6" points="443.3,655 443.3,636.7 445,635 446.7,631.7 450,631.7 451.7,628.3 454,626.7 455,621.7 457.3,620 458.3,613.3 460.7,611.7 461.7,608.3 464,606 466,601.7 469.3,600.7 470.7,596.7 476.7,596 478.3,591.7 480,588.3 481.7,585 483.3,581.7 486,576.7 487.3,575 490,574 491.7,570 495,568.3 496.7,566.7 502.7,565.3 506,563.3 508.3,560 510.7,558.3 512.7,556.7 515,554 516.7,551.7 518.3,545 520.7,543.3 521.7,536.7 523.3,533.3 526.7,531.7 528.3,530 532.7,528.3 536.7,526.7 540,524 543.3,521.7 546.7,520.7 550,516 553.3,514 556.7,510.7 560,508.3 563.3,506 566,505 571.7,504 575,502.7 578.3,500.7 585,499.3 595,497.3 598.3,496.7 607.3,496 614,496"/>
<rect x="397" y="489" width="265" height="173" fill="none" stroke="#000" stroke-width="1"/>
<path d="M408.8,662v3M443,662v3M477.2,662v3M511.4,662v3M545.6,662v3M579.8,662v3M614,662v3M648.2,662v3M397,655h-3M397,623.2h-3M397,591.4h-3M397,559.6h-3M397,527.8h-3M397,496h-3" stroke="#000" stroke-width="0.6"/>
<g class="rt"><text x="408.8" y="677">1.2</text><text x="443" y="677">1.0</text><text x="477.2" y="677">0.8</text><text x="511.4" y="677">0.6</text><text x="545.6" y="677">0.4</text><text x="579.8" y="677">0.2</text><text x="614" y="677">0.0</text><text x="648.2" y="677">-0.2</text></g>
<g class="rt"><text transform="translate(388.5,655) rotate(-90)">0.0</text><text transform="translate(388.5,623.2) rotate(-90)">0.2</text><text transform="translate(388.5,591.4) rotate(-90)">0.4</text><text transform="translate(388.5,559.6) rotate(-90)">0.6</text><text transform="translate(388.5,527.8) rotate(-90)">0.8</text><text transform="translate(388.5,496) rotate(-90)">1.0</text></g>
<text font-size="9" font-weight="bold" fill="#111" text-anchor="middle" transform="translate(375.5,575) rotate(-90)">Sensitivity</text>
<text x="528" y="689" font-size="9" font-weight="bold" fill="#111" text-anchor="middle">Specificity</text>
<text x="528.3" y="581.5" font-size="6.5" fill="#222">AUC: 0.687</text>

<!-- ================= ROC I ================= -->
<rect x="796" y="494.3" width="172.7" height="163" fill="#ececec"/>
<polygon fill="#e7a5b2" points="796,657.3 796,628.3 797.3,615 798.7,611.7 799.3,606.7 801,605.7 801.7,599 803.3,597.7 804,591 806,590 806.7,583.3 808.3,582.3 809,569 811,568.3 811.7,560 813.3,559 814,553.3 815.7,552.3 816.7,545.7 819.3,545 820,539 862.3,539 862.7,531 868.7,531 869.3,524.3 871,516.7 880.3,516.7 880.7,509.3 915,509.3 915.3,502.3 930.3,502.3 930.7,494.3 968.7,494.3 968.7,657.3"/>
<line x1="788.9" y1="664" x2="975.9" y2="487.7" stroke="#9a9a9a" stroke-width="0.9"/>
<rect x="796" y="494.3" width="172.7" height="163" fill="none" stroke="#000" stroke-width="1.3"/>
<polyline fill="none" stroke="#000" stroke-width="2.6" points="796,657.3 796,628.3 797.3,615 798.7,611.7 799.3,606.7 801,605.7 801.7,599 803.3,597.7 804,591 806,590 806.7,583.3 808.3,582.3 809,569 811,568.3 811.7,560 813.3,559 814,553.3 815.7,552.3 816.7,545.7 819.3,545 820,539 862.3,539 862.7,531 868.7,531 869.3,524.3 871,516.7 880.3,516.7 880.7,509.3 915,509.3 915.3,502.3 930.3,502.3 930.7,494.3 968.7,494.3"/>
<rect x="733.3" y="487.7" width="281" height="176.3" fill="none" stroke="#000" stroke-width="1"/>
<path d="M761.5,664v3M796,664v3M830.5,664v3M865.1,664v3M899.6,664v3M934.2,664v3M968.7,664v3M1003.2,664v3M733.3,657.3h-3M733.3,624.7h-3M733.3,592.1h-3M733.3,559.5h-3M733.3,526.9h-3M733.3,494.3h-3" stroke="#000" stroke-width="0.6"/>
<g class="rt"><text x="761.5" y="679">1.2</text><text x="796" y="679">1.0</text><text x="830.5" y="679">0.8</text><text x="865.1" y="679">0.6</text><text x="899.6" y="679">0.4</text><text x="934.2" y="679">0.2</text><text x="968.7" y="679">0.0</text><text x="1003.2" y="679">-0.2</text></g>
<g class="rt"><text transform="translate(739,657.3) rotate(-90)">0.0</text><text transform="translate(739,624.7) rotate(-90)">0.2</text><text transform="translate(739,592.1) rotate(-90)">0.4</text><text transform="translate(739,559.5) rotate(-90)">0.6</text><text transform="translate(739,526.9) rotate(-90)">0.8</text><text transform="translate(739,494.3) rotate(-90)">1.0</text></g>
<text font-size="9" font-weight="bold" fill="#111" text-anchor="middle" transform="translate(725,575) rotate(-90)">Sensitivity</text>
<text x="881.7" y="692" font-size="9" font-weight="bold" fill="#111" text-anchor="middle">Specificity</text>
<text x="882.3" y="581.5" font-size="6.5" fill="#222">AUC: 0.823</text>

<!-- ================= Nomogram J ================= -->
<line x1="123.65" y1="808" x2="540" y2="808" stroke="#e8e8e8" stroke-width="96" stroke-dasharray="0.7 9.675"/>
<line x1="123.35" y1="808" x2="540" y2="808" stroke="#c9c9c9" stroke-width="96" stroke-dasharray="1.3 40.2"/>
<g stroke="#000">
<line x1="124" y1="760" x2="539" y2="760" stroke-width="1.1"/>
<line x1="123.6" y1="761.5" x2="540" y2="761.5" stroke-width="3" stroke-dasharray="0.8 7.5"/>
<line x1="123.5" y1="762" x2="540" y2="762" stroke-width="4" stroke-dasharray="1 40.5"/>
<line x1="124" y1="784" x2="168" y2="784" stroke-width="1.1"/>
<line x1="123.6" y1="785.5" x2="169" y2="785.5" stroke-width="3" stroke-dasharray="0.8 4.1"/>
<line x1="124" y1="807" x2="539" y2="807" stroke-width="1.1"/>
<line x1="123.55" y1="808.5" x2="540" y2="808.5" stroke-width="3" stroke-dasharray="0.9 19.85"/>
<line x1="124" y1="832" x2="145" y2="832" stroke-width="1.1"/>
<line x1="123.65" y1="833.5" x2="146" y2="833.5" stroke-width="3" stroke-dasharray="0.7 1.4"/>
<line x1="124" y1="855" x2="152" y2="855" stroke-width="1.1"/>
<line x1="123.65" y1="856.5" x2="153" y2="856.5" stroke-width="3" stroke-dasharray="0.7 2.1"/>
<line x1="124" y1="878" x2="539" y2="878" stroke-width="1.1"/>
<line x1="123.6" y1="879.5" x2="540" y2="879.5" stroke-width="3" stroke-dasharray="0.8 6.745"/>
<line x1="123.5" y1="880" x2="540" y2="880" stroke-width="4" stroke-dasharray="1 36.727"/>
<line x1="449" y1="902" x2="521" y2="902" stroke-width="1.1"/>
<path d="M449,902v3M479,902v3M493,902v3M521,902v3M459,902v2M469,902v2M486,902v2M507,902v2" stroke-width="0.9"/>
</g>
<g class="nl"><text x="42" y="762.5">Points</text><text x="42" y="786.5">CAV1</text><text x="42" y="809.5">GPC3</text><text x="42" y="834.5">LDLR</text><text x="42" y="857.5">LIMCH1</text><text x="42" y="880.5">Total Points</text><text x="42" y="904.5">Risk</text></g>
<g class="nt"><text x="124" y="755">0</text><text x="165.5" y="755">10</text><text x="207" y="755">20</text><text x="248.5" y="755">30</text><text x="290" y="755">40</text><text x="331.5" y="755">50</text><text x="373" y="755">60</text><text x="414.5" y="755">70</text><text x="456" y="755">80</text><text x="497.5" y="755">90</text><text x="539" y="755">100</text></g>
<g class="nt"><text x="124" y="792">-2</text><text x="146" y="792">4</text><text x="158" y="792">10</text></g>
<g class="nt"><text x="124" y="815">18</text><text x="165.5" y="815">16</text><text x="207" y="815">14</text><text x="248.5" y="815">12</text><text x="290" y="815">10</text><text x="331.5" y="815">8</text><text x="373" y="815">6</text><text x="414.5" y="815">4</text><text x="456" y="815">2</text><text x="497.5" y="815">0</text><text x="539" y="815">-2</text></g>
<g class="nt"><text x="124" y="840">-2</text><text x="139" y="840">5</text></g>
<g class="nt"><text x="124" y="863">-2</text><text x="138" y="863">3</text><text x="152" y="863">8</text></g>
<g class="nt"><text x="124" y="887">0</text><text x="161.7" y="887">10</text><text x="199.5" y="887">20</text><text x="237.2" y="887">30</text><text x="274.9" y="887">40</text><text x="312.6" y="887">50</text><text x="350.4" y="887">60</text><text x="388.1" y="887">70</text><text x="425.8" y="887">80</text><text x="463.5" y="887">90</text><text x="501.3" y="887">100</text><text x="539" y="887">110</text></g>
<g class="nt"><text x="449" y="911">0.001</text><text x="478" y="911">0.1</text><text x="494" y="911">0.5</text><text x="521" y="911">0.99</text></g>

<!-- ================= Calibration J ================= -->
<g stroke="#d8d8d8" stroke-width="0.7"><path d="M658,748v2M662,748v2M665,748v2M669,748v2M673,748v2M676,748v2M680,748v2M684,748v2M688,748v2M692,748v2M696,748v2M700,748v2M705,748v2M710,748v2M715,748v2M721,748v2M728,748v2M735,748v2M744,748v2M752,748v2M762,748v2M775,748v2M790,748v2M810,748v2M835,748v2M870,748v2"/></g>
<line x1="643.5" y1="887.5" x2="969.3" y2="749" stroke="#000" stroke-width="1.3" stroke-dasharray="7,4"/>
<polyline fill="none" stroke="#000" stroke-width="1.3" stroke-linejoin="round" points="656,878.75 675.2,875.5 694.3,869 705.8,860.9 717.3,853.6 728.8,851.1 740.3,851.9 747.9,847.9 755.6,840.6 770.9,834.9 790.1,828.4 809.2,822.7 828.4,818.6 847.5,808.9"/>
<polyline fill="none" stroke="#000" stroke-width="1.3" stroke-dasharray="2,2" points="663.7,879.6 675.2,875.5 686.6,870.6 694.3,865.8 709.6,857.6 724.9,851.1 740.3,849.5 755.6,841.4 770.9,834.9 790.1,826.8 809.2,818.6 828.4,810.5 839.8,805.6"/>
<rect x="643" y="745" width="327" height="142" fill="none" stroke="#000" stroke-width="1.1"/>
<path d="M656,887v3M732.6,887v3M809.2,887v3M885.8,887v3M962.4,887v3M643,882h-3M643,849.5h-3M643,817h-3M643,784.5h-3M643,752h-3" stroke="#000" stroke-width="0.7"/>
<g class="cal"><text x="656" y="903">0.0</text><text x="732.6" y="903">0.2</text><text x="809.2" y="903">0.4</text><text x="885.8" y="903">0.6</text><text x="962.4" y="903">0.8</text></g>
<g class="cal"><text transform="translate(631.5,882) rotate(-90)">0.0</text><text transform="translate(631.5,849.5) rotate(-90)">0.2</text><text transform="translate(631.5,817) rotate(-90)">0.4</text><text transform="translate(631.5,784.5) rotate(-90)">0.6</text><text transform="translate(631.5,752) rotate(-90)">0.8</text></g>
<text font-size="7.3" fill="#222" text-anchor="middle" transform="translate(607.5,817) rotate(-90)">Actual Probability</text>
<text x="808" y="919" font-size="7.3" font-weight="bold" fill="#222" text-anchor="middle">Predicted Probability</text>
<path d="M832,848.3h18" stroke="#000" stroke-width="1.3" stroke-dasharray="2,2"/><path d="M832,857h18" stroke="#000" stroke-width="1.3"/><path d="M832,865.7h18" stroke="#000" stroke-width="1.3" stroke-dasharray="6,3"/>
<g class="leg"><text x="857" y="851">Apparent</text><text x="857" y="859.7">Bias-corrected</text><text x="857" y="868.4">Ideal</text></g>

<!-- ================= Nomogram K ================= -->
<line x1="124.65" y1="1042.5" x2="546" y2="1042.5" stroke="#e8e8e8" stroke-width="99" stroke-dasharray="0.7 9.8"/>
<line x1="124.35" y1="1042.5" x2="546" y2="1042.5" stroke="#c9c9c9" stroke-width="99" stroke-dasharray="1.3 40.7"/>
<g stroke="#000">
<line x1="125" y1="993" x2="545" y2="993" stroke-width="1.1"/>
<line x1="124.6" y1="994.5" x2="546" y2="994.5" stroke-width="3" stroke-dasharray="0.8 7.6"/>
<line x1="124.5" y1="995" x2="546" y2="995" stroke-width="4" stroke-dasharray="1 41"/>
<line x1="125" y1="1012" x2="365" y2="1012" stroke-width="1.1"/>
<line x1="124.55" y1="1013.5" x2="366" y2="1013.5" stroke-width="3" stroke-dasharray="0.9 25.77"/>
<line x1="125" y1="1032" x2="462" y2="1032" stroke-width="1.1"/>
<line x1="124.55" y1="1033.5" x2="463" y2="1033.5" stroke-width="3" stroke-dasharray="0.9 32.8"/>
<line x1="125" y1="1052" x2="290" y2="1052" stroke-width="1.1"/>
<line x1="124.55" y1="1053.5" x2="291" y2="1053.5" stroke-width="3" stroke-dasharray="0.9 17.43"/>
<line x1="125" y1="1072" x2="478" y2="1072" stroke-width="1.1"/>
<line x1="124.55" y1="1073.5" x2="479" y2="1073.5" stroke-width="3" stroke-dasharray="0.9 31.19"/>
<line x1="125" y1="1092" x2="545" y2="1092" stroke-width="1.1"/>
<line x1="124.55" y1="1093.5" x2="546" y2="1093.5" stroke-width="3" stroke-dasharray="0.9 25.35"/>
<line x1="125" y1="1111" x2="545" y2="1111" stroke-width="1.1"/>
<line x1="124.6" y1="1112.5" x2="546" y2="1112.5" stroke-width="3" stroke-dasharray="0.8 11.2"/>
<line x1="124.5" y1="1113" x2="546" y2="1113" stroke-width="4" stroke-dasharray="1 59"/>
<line x1="372" y1="1131" x2="463" y2="1131" stroke-width="1.1"/>
<path d="M372,1131v3M375,1131v3M402,1131v3M428,1131v3M463,1131v3M388,1131v2M415,1131v2M445,1131v2" stroke-width="0.9"/>
</g>
<g class="nl"><text x="42" y="995.5">Points</text><text x="42" y="1014.5">NDNF</text><text x="42" y="1034.5">CYP4B1</text><text x="42" y="1054.5">EMP1</text><text x="42" y="1074.5">GPRC5A</text><text x="42" y="1094.5">SMAD6</text><text x="42" y="1113.5">Total Points</text><text x="42" y="1133.5">Risk</text></g>
<g class="nt"><text x="125" y="988">0</text><text x="167" y="988">10</text><text x="209" y="988">20</text><text x="251" y="988">30</text><text x="293" y="988">40</text><text x="335" y="988">50</text><text x="377" y="988">60</text><text x="419" y="988">70</text><text x="461" y="988">80</text><text x="503" y="988">90</text><text x="545" y="988">100</text></g>
<g class="nt"><text x="125" y="1020">8</text><text x="151.7" y="1020">7</text><text x="178.3" y="1020">6</text><text x="205" y="1020">5</text><text x="231.7" y="1020">4</text><text x="258.3" y="1020">3</text><text x="285" y="1020">2</text><text x="311.7" y="1020">1</text><text x="338.3" y="1020">0</text><text x="365" y="1020">-1</text></g>
<g class="nt"><text x="125" y="1040">9</text><text x="158.7" y="1040">8</text><text x="192.4" y="1040">7</text><text x="226.1" y="1040">6</text><text x="259.8" y="1040">5</text><text x="293.5" y="1040">4</text><text x="327.2" y="1040">3</text><text x="360.9" y="1040">2</text><text x="394.6" y="1040">1</text><text x="428.3" y="1040">0</text><text x="462" y="1040">-1</text></g>
<g class="nt"><text x="125" y="1060">-2</text><text x="143.3" y="1060">-1</text><text x="161.7" y="1060">0</text><text x="180" y="1060">1</text><text x="198.3" y="1060">2</text><text x="216.7" y="1060">3</text><text x="235" y="1060">4</text><text x="253.3" y="1060">5</text><text x="271.7" y="1060">6</text><text x="290" y="1060">7</text></g>
<g class="nt"><text x="125" y="1080">-2</text><text x="157.1" y="1080">-1</text><text x="189.2" y="1080">0</text><text x="221.3" y="1080">1</text><text x="253.4" y="1080">2</text><text x="285.5" y="1080">3</text><text x="317.5" y="1080">4</text><text x="349.6" y="1080">5</text><text x="381.7" y="1080">6</text><text x="413.8" y="1080">7</text><text x="445.9" y="1080">8</text><text x="478" y="1080">9</text></g>
<g class="nt"><text x="125" y="1100">14</text><text x="177.5" y="1100">12</text><text x="230" y="1100">10</text><text x="282.5" y="1100">8</text><text x="335" y="1100">6</text><text x="387.5" y="1100">4</text><text x="440" y="1100">2</text><text x="492.5" y="1100">0</text><text x="545" y="1100">-2</text></g>
<g class="nt"><text x="125" y="1120">0</text><text x="185" y="1120">50</text><text x="245" y="1120">100</text><text x="305" y="1120">150</text><text x="365" y="1120">200</text><text x="425" y="1120">250</text><text x="485" y="1120">300</text><text x="545" y="1120">350</text></g>
<g class="nt"><text x="375" y="1140">0.1</text><text x="402" y="1140">0.3</text><text x="428" y="1140">0.6</text><text x="463" y="1140">0.9</text></g>

<!-- ================= Calibration K ================= -->
<line x1="643.5" y1="1126" x2="971" y2="983" stroke="#000" stroke-width="1.3" stroke-dasharray="7,4"/>
<polyline fill="none" stroke="#000" stroke-width="1.3" stroke-linejoin="round" points="663.8,1121 691,1110.5 725,1095.5 742,1086.5 759,1076 776,1067 793,1061 810,1058 827,1055 844,1050.5 861,1041.5 895,1022 929,1002.5 939.2,996.5"/>
<polyline fill="none" stroke="#000" stroke-width="1.3" stroke-dasharray="2,2" points="667.2,1121 691,1109 725,1092.5 759,1074.5 793,1061 810,1058 827,1055 844,1049 861,1038.5 895,1019 929,998 942.6,986"/>
<rect x="643" y="983" width="329" height="143" fill="none" stroke="#000" stroke-width="1.1"/>
<path d="M657,1126v3M725,1126v3M793,1126v3M861,1126v3M929,1126v3M643,1121h-3M643,1091h-3M643,1061h-3M643,1031h-3M643,1001h-3" stroke="#000" stroke-width="0.7"/>
<g class="cal"><text x="657" y="1142">0.0</text><text x="725" y="1142">0.2</text><text x="793" y="1142">0.4</text><text x="861" y="1142">0.6</text><text x="929" y="1142">0.8</text></g>
<g class="cal"><text transform="translate(631.5,1121) rotate(-90)">0.0</text><text transform="translate(631.5,1091) rotate(-90)">0.2</text><text transform="translate(631.5,1061) rotate(-90)">0.4</text><text transform="translate(631.5,1031) rotate(-90)">0.6</text><text transform="translate(631.5,1001) rotate(-90)">0.8</text></g>
<text font-size="7.3" fill="#222" text-anchor="middle" transform="translate(607.5,1055) rotate(-90)">Actual Probability</text>
<text x="808" y="1160" font-size="7.3" font-weight="bold" fill="#222" text-anchor="middle">Predicted Probability</text>
<path d="M831,1087.5h18" stroke="#000" stroke-width="1.3" stroke-dasharray="2,2"/><path d="M831,1096.5h18" stroke="#000" stroke-width="1.3"/><path d="M831,1105h18" stroke="#000" stroke-width="1.3" stroke-dasharray="6,3"/>
<g class="leg"><text x="856" y="1090">Apparent</text><text x="856" y="1099">Bias-corrected</text><text x="856" y="1107.5">Ideal</text></g>

<!-- ================= Nomogram L ================= -->
<line x1="129.65" y1="1284" x2="555" y2="1284" stroke="#e8e8e8" stroke-width="106" stroke-dasharray="0.7 9.9"/>
<line x1="129.35" y1="1284" x2="555" y2="1284" stroke="#c9c9c9" stroke-width="106" stroke-dasharray="1.3 41.1"/>
<g stroke="#000">
<line x1="130" y1="1231" x2="554" y2="1231" stroke-width="1.1"/>
<line x1="129.6" y1="1232.5" x2="555" y2="1232.5" stroke-width="3" stroke-dasharray="0.8 7.68"/>
<line x1="129.5" y1="1233" x2="555" y2="1233" stroke-width="4" stroke-dasharray="1 41.4"/>
<line x1="130" y1="1249" x2="197" y2="1249" stroke-width="1.1"/>
<line x1="129.55" y1="1250.5" x2="198" y2="1250.5" stroke-width="3" stroke-dasharray="0.9 7.5"/>
<line x1="130" y1="1267" x2="193" y2="1267" stroke-width="1.1"/>
<line x1="129.6" y1="1268.5" x2="194" y2="1268.5" stroke-width="3" stroke-dasharray="0.8 3.7"/>
<line x1="130" y1="1284" x2="181" y2="1284" stroke-width="1.1"/>
<line x1="129.6" y1="1285.5" x2="182" y2="1285.5" stroke-width="3" stroke-dasharray="0.8 3.84"/>
<line x1="130" y1="1302" x2="554" y2="1302" stroke-width="1.1"/>
<line x1="129.55" y1="1303.5" x2="555" y2="1303.5" stroke-width="3" stroke-dasharray="0.9 20.3"/>
<line x1="130" y1="1319" x2="201" y2="1319" stroke-width="1.1"/>
<line x1="129.55" y1="1320.5" x2="202" y2="1320.5" stroke-width="3" stroke-dasharray="0.9 6.2"/>
<line x1="130" y1="1337" x2="178" y2="1337" stroke-width="1.1"/>
<line x1="129.6" y1="1338.5" x2="179" y2="1338.5" stroke-width="3" stroke-dasharray="0.8 2.9"/>
<line x1="130" y1="1353" x2="554" y2="1353" stroke-width="1.1"/>
<line x1="129.6" y1="1354.5" x2="555" y2="1354.5" stroke-width="3" stroke-dasharray="0.8 5.723"/>
<line x1="129.5" y1="1355" x2="555" y2="1355" stroke-width="4" stroke-dasharray="1 31.615"/>
<line x1="444" y1="1371" x2="531" y2="1371" stroke-width="1.1"/>
<path d="M444,1371v3M466,1371v3M492,1371v3M531,1371v3M455,1371v2M479,1371v2M512,1371v2" stroke-width="0.9"/>
</g>
<g class="nl"><text x="47" y="1233.5">Points</text><text x="47" y="1251.5">TYMS</text><text x="47" y="1269.5">CD36</text><text x="47" y="1286.5">HEY1</text><text x="47" y="1304.5">HOXA5</text><text x="47" y="1321.5">LIMCH1</text><text x="47" y="1339.5">TBX3</text><text x="47" y="1355.5">Total Points</text><text x="47" y="1373.5">Risk</text></g>
<g class="nt"><text x="130" y="1226">0</text><text x="172.4" y="1226">10</text><text x="214.8" y="1226">20</text><text x="257.2" y="1226">30</text><text x="299.6" y="1226">40</text><text x="342" y="1226">50</text><text x="384.4" y="1226">60</text><text x="426.8" y="1226">70</text><text x="469.2" y="1226">80</text><text x="511.6" y="1226">90</text><text x="554" y="1226">100</text></g>
<g class="nt"><text x="130" y="1257">-2</text><text x="145.6" y="1257">0</text><text x="160" y="1257">2</text><text x="175" y="1257">4</text><text x="189" y="1257">6</text></g>
<g class="nt"><text x="130" y="1275">-1</text><text x="147" y="1275">3</text><text x="160" y="1275">6</text><text x="172" y="1275">9</text><text x="189" y="1275">13</text></g>
<g class="nt"><text x="130" y="1292">-1</text><text x="145" y="1292">2</text><text x="158" y="1292">5</text><text x="172" y="1292">8</text></g>
<g class="nt"><text x="130" y="1310">18</text><text x="172.4" y="1310">16</text><text x="214.8" y="1310">14</text><text x="257.2" y="1310">12</text><text x="299.6" y="1310">10</text><text x="342" y="1310">8</text><text x="384.4" y="1310">6</text><text x="426.8" y="1310">4</text><text x="469.2" y="1310">2</text><text x="511.6" y="1310">0</text><text x="554" y="1310">-2</text></g>
<g class="nt"><text x="130" y="1327">-2</text><text x="145" y="1327">0</text><text x="160" y="1327">2</text><text x="174" y="1327">4</text><text x="187" y="1327">6</text><text x="200" y="1327">8</text></g>
<g class="nt"><text x="130" y="1345">-1</text><text x="145" y="1345">3</text><text x="158" y="1345">7</text><text x="176" y="1345">12</text></g>
<g class="nt"><text x="130" y="1362">0</text><text x="162.6" y="1362">10</text><text x="195.2" y="1362">20</text><text x="227.8" y="1362">30</text><text x="260.5" y="1362">40</text><text x="293.1" y="1362">50</text><text x="325.7" y="1362">60</text><text x="358.3" y="1362">70</text><text x="390.9" y="1362">80</text><text x="423.5" y="1362">90</text><text x="456.2" y="1362">100</text><text x="488.8" y="1362">110</text><text x="521.4" y="1362">120</text><text x="554" y="1362">130</text></g>
<g class="nt"><text x="444" y="1380">0.01</text><text x="466" y="1380">0.1</text><text x="492" y="1380">0.6</text><text x="531" y="1380">0.99</text></g>

<!-- ================= Calibration L ================= -->
<g stroke="#d8d8d8" stroke-width="0.7"><path d="M656,1218v2M660,1218v2M664,1218v2M668,1218v2M672,1218v2M677,1218v2M682,1218v2M688,1218v2M695,1218v2M703,1218v2M712,1218v2"/></g>
<line x1="641" y1="1355" x2="972" y2="1217.3" stroke="#000" stroke-width="1.3" stroke-dasharray="7,4"/>
<polyline fill="none" stroke="#000" stroke-width="1.3" stroke-linejoin="round" points="654,1350 673.2,1345.2 684.7,1330.8 692.4,1321.2 701,1318.8 711.5,1318 730.7,1316.4 742.2,1314.8 755,1319 769,1321.2 778,1316 788.2,1311.6 807.4,1305.2 826,1297.5 845.8,1289.2 865,1282.5 884.1,1274.8 899.4,1266.8"/>
<polyline fill="none" stroke="#000" stroke-width="1.3" stroke-dasharray="2,2" points="654,1350 665.5,1346.8 677,1337.2 684.7,1326 692.4,1319.6 711.5,1318 730.7,1316.4 746,1314.8 769,1318 788.2,1308.4 807.4,1298.8 826,1289 845.8,1278 865,1268.5 884.1,1258.8 891.8,1254"/>
<rect x="640" y="1215" width="332" height="140" fill="none" stroke="#000" stroke-width="1.1"/>
<path d="M654,1355v3M730.7,1355v3M807.4,1355v3M884.1,1355v3M960.8,1355v3M640,1350h-3M640,1318h-3M640,1286h-3M640,1254h-3M640,1222h-3" stroke="#000" stroke-width="0.7"/>
<g class="cal"><text x="654" y="1368">0.0</text><text x="730.7" y="1368">0.2</text><text x="807.4" y="1368">0.4</text><text x="884.1" y="1368">0.6</text><text x="960.8" y="1368">0.8</text></g>
<g class="cal"><text transform="translate(628.5,1350) rotate(-90)">0.0</text><text transform="translate(628.5,1318) rotate(-90)">0.2</text><text transform="translate(628.5,1286) rotate(-90)">0.4</text><text transform="translate(628.5,1254) rotate(-90)">0.6</text><text transform="translate(628.5,1222) rotate(-90)">0.8</text></g>
<text font-size="7.3" fill="#222" text-anchor="middle" transform="translate(605.5,1286) rotate(-90)">Actual Probability</text>
<text x="808" y="1388" font-size="7.3" font-weight="bold" fill="#222" text-anchor="middle">Predicted Probability</text>
<path d="M831,1319h18" stroke="#000" stroke-width="1.3" stroke-dasharray="2,2"/><path d="M831,1327h18" stroke="#000" stroke-width="1.3"/><path d="M831,1335h18" stroke="#000" stroke-width="1.3" stroke-dasharray="6,3"/>
<g class="leg"><text x="856" y="1321.5">Apparent</text><text x="856" y="1329.5">Bias-corrected</text><text x="856" y="1337.5">Ideal</text></g>
</svg>
</body></html>
